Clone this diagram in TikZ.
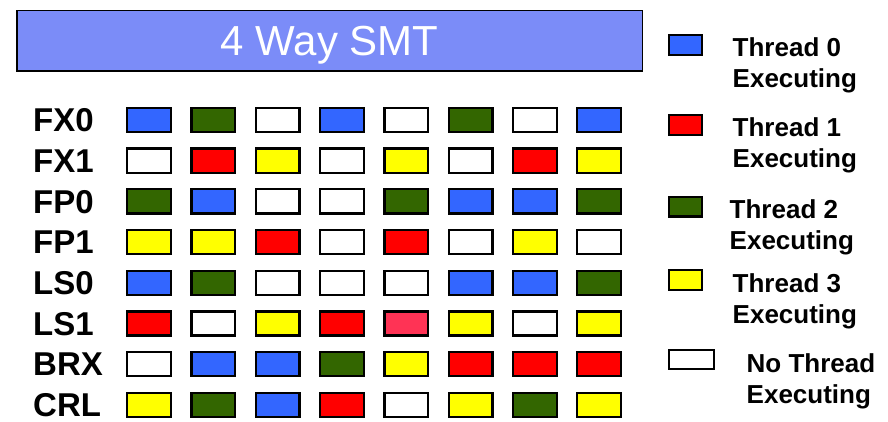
\documentclass[tikz,border=0pt]{standalone}
\usepackage{fontspec}
\setmainfont{Liberation Sans}
\definecolor{titlebg}{HTML}{7B8CF8}
\definecolor{cB}{HTML}{3366FF}
\definecolor{cG}{HTML}{336600}
\definecolor{cR}{HTML}{FF0000}
\definecolor{cY}{HTML}{FFFF00}
\definecolor{cP}{HTML}{FF3355}
\definecolor{cW}{HTML}{FFFFFF}
\begin{document}
\begin{tikzpicture}[x=1pt, y=-1pt,
  every node/.style={font=\bfseries\fontsize{33}{37}\selectfont},
  cell/.style={draw=black, line width=2.3pt, minimum width=43.7pt, minimum height=24.2pt, inner sep=0pt},
  keybox/.style={draw=black, line width=2.3pt, minimum width=32.7pt, minimum height=19.7pt, inner sep=0pt},
  keytext/.style={anchor=north west, inner sep=0pt, align=left, font=\bfseries\fontsize{26}{31}\selectfont}]
  \useasboundingbox (0,0) rectangle (888,422);

  % title bar
  \node[draw=black, line width=1.5pt, fill=titlebg, minimum width=625.5pt, minimum height=60.5pt,
        inner sep=0pt, text height=30pt, text depth=0pt, text=white,
        font=\fontsize{42}{47}\selectfont] (title) at (329.5,41) {4 Way SMT};

  % issue slots per unit
  \foreach \lab/\row [count=\r from 0] in {
      FX0/{B,G,W,B,W,G,W,B},
      FX1/{W,R,Y,W,Y,W,R,Y},
      FP0/{G,B,W,W,G,B,B,G},
      FP1/{Y,Y,R,W,R,W,Y,W},
      LS0/{B,G,W,W,W,B,B,G},
      LS1/{R,W,Y,R,P,Y,W,Y},
      BRX/{W,B,B,G,Y,R,R,R},
      CRL/{Y,G,B,R,W,Y,G,Y}} {
    \node[anchor=west, inner sep=0pt] (\lab) at (33,120.3+40.7*\r) {\lab};
    \foreach \c [count=\k from 0] in \row {
      \node[cell, fill=c\c] (\lab-\k) at (149+64.3*\k,120+40.7*\r) {};
    }
  }

  % legend
  \node[keybox, fill=cB] (key0) at (685.5,45) {};
  \node[keytext] (key0-txt) at (732.5,37) {Thread 0\\Executing};
  \node[keybox, fill=cR] (key1) at (685.5,125) {};
  \node[keytext] (key1-txt) at (732.5,117) {Thread 1\\Executing};
  \node[keybox, fill=cG] (key2) at (685.5,206.5) {};
  \node[keytext] (key2-txt) at (729.5,199) {Thread 2\\Executing};
  \node[keybox, fill=cY] (key3) at (685.5,280) {};
  \node[keytext] (key3-txt) at (732.5,273) {Thread 3\\Executing};
  \node[keybox, fill=cW, minimum width=44.5pt, minimum height=19pt] (key4) at (691.5,359.5) {};
  \node[keytext] (key4-txt) at (746.5,353) {No Thread\\Executing};
\end{tikzpicture}
\end{document}
